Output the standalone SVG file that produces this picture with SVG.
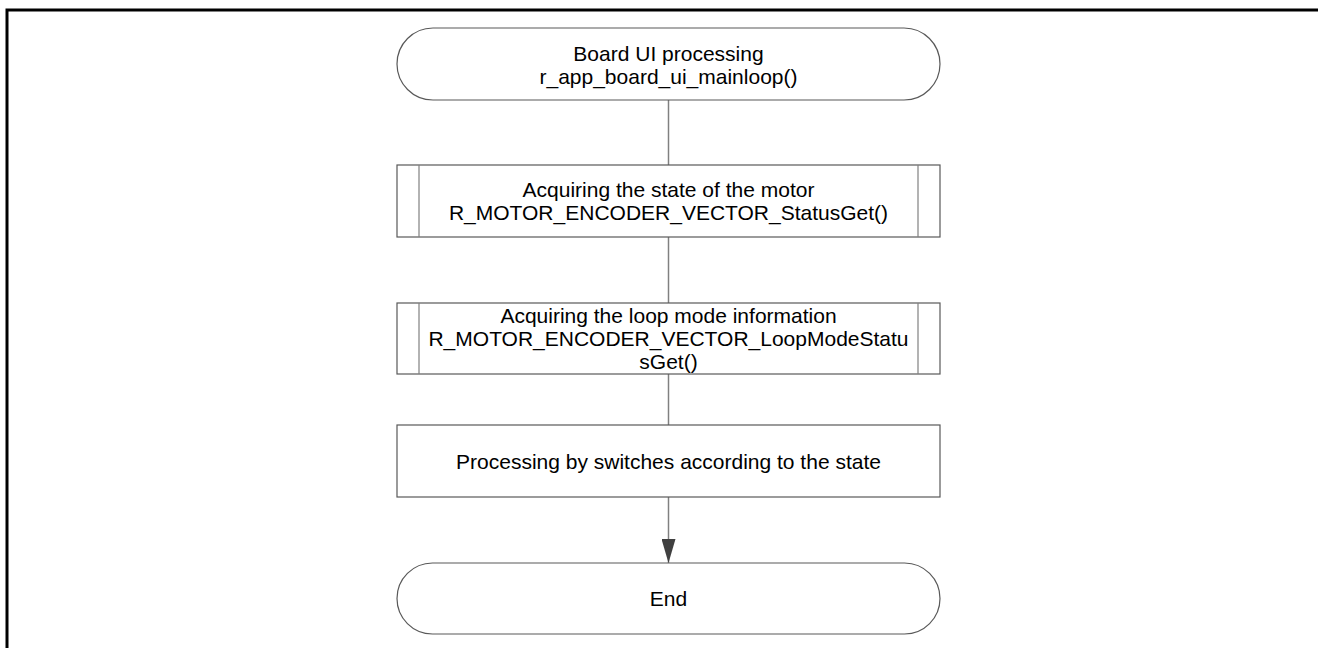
<svg xmlns="http://www.w3.org/2000/svg" width="1319" height="648" viewBox="0 0 1319 648">
<defs>
<style>
.node{fill:#fff;stroke:#595959;stroke-width:1.2}
.inner{stroke:#808080;stroke-width:1.2}
.conn{stroke:#808080;stroke-width:1.5;fill:none}
text{font-family:"Liberation Sans",Arial,sans-serif;font-size:21px;fill:#000;text-anchor:middle}
</style>
<marker id="arr" markerWidth="24" markerHeight="14" refX="24" refY="7" orient="auto" markerUnits="userSpaceOnUse" viewBox="0 0 24 14">
<path d="M0,0 L24,7 L0,14 Z" fill="#404040"/>
</marker>
</defs>
<rect width="1319" height="648" fill="#fff"/>
<path d="M7,648 V10 H1318" fill="none" stroke="#000" stroke-width="3"/>
<g id="connectors">
<line class="conn" x1="668.5" y1="100" x2="668.5" y2="165"/>
<line class="conn" x1="668.5" y1="237" x2="668.5" y2="303"/>
<line class="conn" x1="668.5" y1="374" x2="668.5" y2="425"/>
<line class="conn" x1="668.5" y1="497" x2="668.5" y2="563" marker-end="url(#arr)"/>
</g>
<g id="start">
<rect class="node" x="397" y="28" width="543" height="72" rx="36" ry="36"/>
<text x="668.5" y="60.5">Board UI processing</text>
<text x="668.5" y="83.5">r_app_board_ui_mainloop()</text>
</g>
<g id="status">
<rect class="node" x="397" y="165" width="543" height="72"/>
<line class="inner" x1="419" y1="165" x2="419" y2="237"/>
<line class="inner" x1="918" y1="165" x2="918" y2="237"/>
<text x="668.5" y="197">Acquiring the state of the motor</text>
<text x="668.5" y="220">R_MOTOR_ENCODER_VECTOR_StatusGet()</text>
</g>
<g id="loopmode">
<rect class="node" x="397" y="303" width="543" height="71"/>
<line class="inner" x1="419" y1="303" x2="419" y2="374"/>
<line class="inner" x1="918" y1="303" x2="918" y2="374"/>
<text x="668.5" y="323">Acquiring the loop mode information</text>
<text x="668.5" y="346">R_MOTOR_ENCODER_VECTOR_LoopModeStatu</text>
<text x="668.5" y="369">sGet()</text>
</g>
<g id="switches">
<rect class="node" x="397" y="425" width="543" height="72"/>
<text x="668.5" y="468.5">Processing by switches according to the state</text>
</g>
<g id="end">
<rect class="node" x="397" y="563" width="543" height="71" rx="35.5" ry="35.5"/>
<text x="668.5" y="606">End</text>
</g>
</svg>
